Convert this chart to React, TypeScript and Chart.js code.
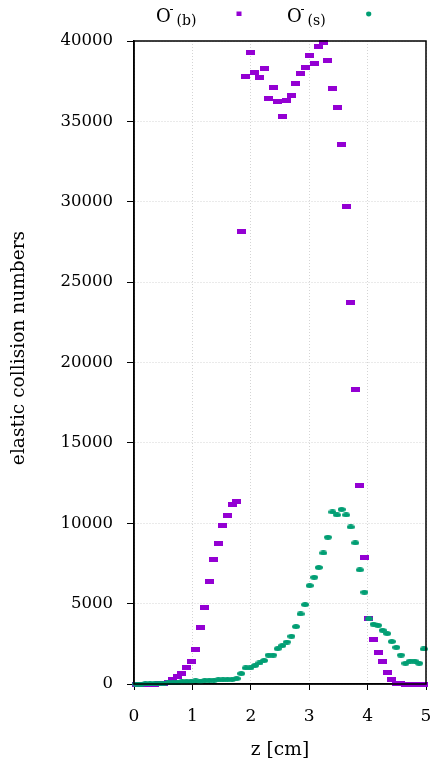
import React, { useEffect, useRef } from "react";
import { Chart, registerables } from "chart.js";

Chart.register(...registerables);

const zValues = [
  0.039, 0.117, 0.195, 0.273, 0.352, 0.43, 0.508, 0.586, 0.664, 0.742, 0.82, 0.898, 0.977, 1.055, 1.133, 1.211,
  1.289, 1.367, 1.445, 1.523, 1.602, 1.68, 1.758, 1.836, 1.914, 1.992, 2.07, 2.148, 2.227, 2.305, 2.383, 2.461,
  2.539, 2.617, 2.695, 2.773, 2.852, 2.93, 3.008, 3.086, 3.164, 3.242, 3.32, 3.398, 3.477, 3.555, 3.633, 3.711,
  3.789, 3.867, 3.945, 4.023, 4.102, 4.18, 4.258, 4.336, 4.414, 4.492, 4.57, 4.648, 4.727, 4.805, 4.883, 4.961,
];

const bulkValues = [
  0, 0, 0, 0, 0, 10, 40, 100, 250, 436, 670, 1000, 1400, 2150, 3500, 4730,
  6390, 7760, 8740, 9830, 10460, 11140, 11370, 28150, 37800, 39300, 38070, 37700, 38260, 36430, 37100, 36220,
  35290, 36270, 36580, 37330, 37950, 38370, 39110, 38630, 39650, 39920, 38760, 37060, 35850, 33570, 29730, 23760,
  18320, 12350, 7870, 4100, 2780, 1990, 1430, 710, 310, 30, 10, 0, 0, 0, 0, 0,
];

const surfaceValues = [
  0, 0, 10, 20, 30, 40, 60, 80, 100, 120, 140, 160, 170, 190, 180, 210,
  230, 240, 260, 250, 290, 280, 340, 650, 1000, 1000, 1150, 1310, 1460, 1800, 1800, 2200,
  2390, 2610, 2970, 3570, 4360, 4940, 6120, 6640, 7250, 8150, 9130, 10700, 10520, 10860, 10520, 9770,
  8780, 7100, 5710, 4060, 3720, 3650, 3340, 3140, 2640, 2280, 1800, 1290, 1430, 1430, 1290, 2180,
];

const xTicks = [0, 1, 2, 3, 4, 5];
const yTickStep = 5000;
const seriesLabels = ["(b)", "(s)"];
const xTitle = "z [cm]";
const yTitle = "elastic collision numbers";

const PURPLE = "#9400D3";
const GREEN = "#009E73";
const FONT = "'DejaVu Serif', serif";

function makeRect(color: string, w: number, h: number) {
  const c = document.createElement("canvas");
  c.width = w;
  c.height = h;
  const ctx = c.getContext("2d")!;
  ctx.fillStyle = color;
  ctx.fillRect(0, 0, w, h);
  return c;
}

function makeEllipse(color: string, w: number, h: number) {
  const c = document.createElement("canvas");
  c.width = w;
  c.height = h;
  const ctx = c.getContext("2d")!;
  ctx.fillStyle = color;
  ctx.beginPath();
  ctx.ellipse(w / 2, h / 2, w / 2, h / 2, 0, 0, Math.PI * 2);
  ctx.fill();
  return c;
}

const framePlugin = {
  id: "frame",
  afterDatasetsDraw(chart: any) {
    const { ctx, chartArea } = chart;
    ctx.save();
    ctx.strokeStyle = "#000";
    ctx.lineWidth = 1.5;
    ctx.strokeRect(chartArea.left, chartArea.top, chartArea.right - chartArea.left, chartArea.bottom - chartArea.top);
    ctx.restore();
  },
  afterDraw(chart: any) {
    const { ctx } = chart;
    ctx.save();
    ctx.fillStyle = "#000";
    // y axis title
    ctx.save();
    ctx.translate(19, 348);
    ctx.rotate(-Math.PI / 2);
    ctx.font = `18.6px ${FONT}`;
    ctx.textAlign = "center";
    ctx.textBaseline = "middle";
    ctx.fillText(yTitle, 0, 0);
    ctx.restore();
    // legend
    ctx.textBaseline = "alphabetic";
    ctx.textAlign = "left";
    const drawEntry = (x: number, sub: string) => {
      ctx.font = `18px ${FONT}`;
      ctx.fillText("O", x, 21.5);
      ctx.font = `12px ${FONT}`;
      ctx.fillText("-", x + 13.5, 13);
      ctx.font = `14px ${FONT}`;
      ctx.fillText(sub, x + 20.5, 25);
    };
    drawEntry(156, seriesLabels[0]);
    drawEntry(287, seriesLabels[1]);
    ctx.fillStyle = PURPLE;
    ctx.fillRect(236.5, 11.5, 5, 4.5);
    ctx.fillStyle = GREEN;
    ctx.beginPath();
    ctx.ellipse(368.7, 14, 2.6, 2.4, 0, 0, Math.PI * 2);
    ctx.fill();
    ctx.restore();
  },
};

export default function App() {
  const ref = useRef<HTMLCanvasElement>(null);
  useEffect(() => {
    if (!ref.current) return;
    const purpleMarker = makeRect(PURPLE, 9, 5);
    const greenMarker = makeEllipse(GREEN, 8, 5);
    const chart = new Chart(ref.current, {
      type: "scatter",
      data: {
        datasets: [
          {
            label: "O-(s)",
            data: zValues.map((z, i) => ({ x: z, y: surfaceValues[i] })),
            pointStyle: greenMarker as any,
            pointRadius: 4,
            backgroundColor: GREEN,
            borderColor: GREEN,
            clip: false as any,
          },
          {
            label: "O-(b)",
            data: zValues.map((z, i) => ({ x: z, y: bulkValues[i] })),
            pointStyle: purpleMarker as any,
            pointRadius: 4,
            backgroundColor: PURPLE,
            borderColor: PURPLE,
            clip: false as any,
          },
        ],
      },
      options: {
        animation: false,
        responsive: false,
        devicePixelRatio: 1,
        layout: { padding: { top: 41, right: 8, left: 0, bottom: 0 } },
        plugins: { legend: { display: false }, tooltip: { enabled: false } },
        scales: {
          x: {
            type: "linear",
            min: 0,
            max: 5,
            afterBuildTicks: (s: any) => {
              s.ticks = xTicks.map((v) => ({ value: v }));
            },
            afterFit: (s: any) => {
              s.height = 78;
              s.paddingLeft = 0;
              s.paddingRight = 0;
            },
            ticks: {
              color: "#000",
              font: { family: FONT, size: 17 },
              padding: 16,
              maxRotation: 0,
              callback: (v: any) => String(v),
            },
            grid: {
              color: "#d4d4d4",
              lineWidth: 1,
              tickColor: "#000",
              tickLength: 6,
              tickWidth: 1,
            },
            border: { display: true, color: "#000", width: 1.5, dash: [1, 2] },
            title: {
              display: true,
              text: xTitle,
              color: "#000",
              font: { family: FONT, size: 18.6 },
              padding: { top: 1, bottom: 1 },
            },
          },
          y: {
            type: "linear",
            min: 0,
            max: 40000,
            ticks: {
              stepSize: yTickStep,
              color: "#000",
              font: { family: FONT, size: 16.5 },
              padding: 14,
              callback: (v: any) => String(v),
            },
            afterFit: (s: any) => {
              s.width = 134;
              s.paddingTop = 0;
              s.paddingBottom = 0;
            },
            grid: {
              color: "#d4d4d4",
              lineWidth: 1,
              tickColor: "#000",
              tickLength: 7,
              tickWidth: 1,
            },
            border: { display: true, color: "#000", width: 1.5, dash: [1, 2] },
            title: { display: false, text: yTitle },
          },
        },
      },
      plugins: [framePlugin],
    });
    return () => chart.destroy();
  }, []);
  return (
    <div style={{ position: "absolute", left: 0, top: 0, width: 434, height: 762, background: "#fff" }}>
      <canvas ref={ref} width={434} height={762} style={{ width: 434, height: 762 }} />
    </div>
  );
}
